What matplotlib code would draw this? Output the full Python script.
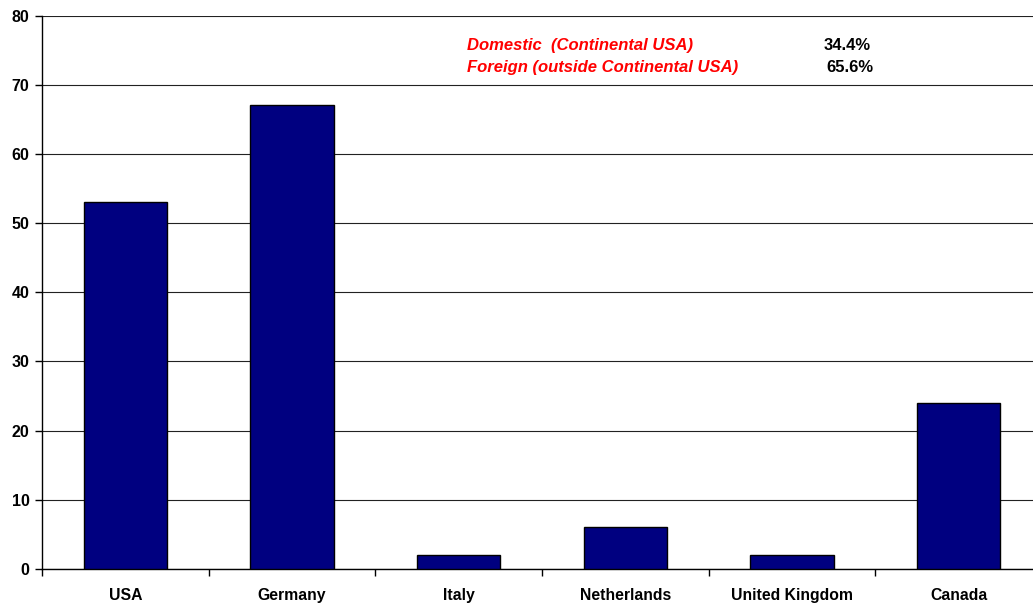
import matplotlib
matplotlib.use("Agg")
import matplotlib.pyplot as plt
import numpy as np

plt.rcParams['font.family'] = ['Liberation Sans', 'DejaVu Sans']

# datos por pais
paises = ["USA", "Germany", "Italy", "Netherlands", "United Kingdom", "Canada"]
valores = [53, 67, 2, 6, 2, 24]

# resumen domestico / extranjero
etiquetas_resumen = ["Domestic  (Continental USA)", "Foreign (outside Continental USA)"]
porcentajes = ["34.4%", "65.6%"]

fig = plt.figure(figsize=(10.33, 6.05), dpi=100)
# el area del grafico se sale un poco por la derecha
ax = fig.add_axes([42 / 1033, 36 / 605, 1000 / 1033, (569 - 15.5) / 605])

x = np.arange(len(paises))
ax.bar(x, valores, width=0.5, color="#000080", edgecolor="black", linewidth=1, zorder=3)

ax.set_xlim(-0.5, len(paises) - 0.5)
ax.set_ylim(0, 80)
ax.set_yticks(range(0, 81, 10))
ax.set_yticklabels([str(v) for v in range(0, 81, 10)], fontsize=11.5, fontweight="bold")
ax.yaxis.grid(True, color="#222222", linewidth=0.8, zorder=0)

# ticks del eje x entre categorias, etiquetas centradas
ax.set_xticks(np.arange(-0.5, len(paises) - 0.4, 1))
ax.set_xticklabels([])
ax.set_xticks(x, minor=True)
ax.set_xticklabels(paises, minor=True, fontsize=11.3, fontweight="bold")
ax.tick_params(axis="x", which="minor", length=0, pad=14)
ax.tick_params(axis="x", which="major", length=5, direction="out", width=1)
ax.tick_params(axis="y", length=5, direction="out", width=1, pad=4)

for lado in ["top", "right"]:
    ax.spines[lado].set_visible(False)
ax.spines["left"].set_linewidth(1)
ax.spines["bottom"].set_linewidth(1)

# texto de resumen arriba
ys = [75.6, 72.5]
for etiqueta, yy in zip(etiquetas_resumen, ys):
    ax.text(2.05, yy, etiqueta, color="red", fontsize=12, fontweight="bold",
            fontstyle="italic", va="center", ha="left")
ax.text(4.47, ys[0], porcentajes[0], fontsize=12, fontweight="bold", va="center", ha="right")
ax.text(4.49, ys[1], porcentajes[1], fontsize=12, fontweight="bold", va="center", ha="right")

fig.savefig("out.png", dpi=100)
